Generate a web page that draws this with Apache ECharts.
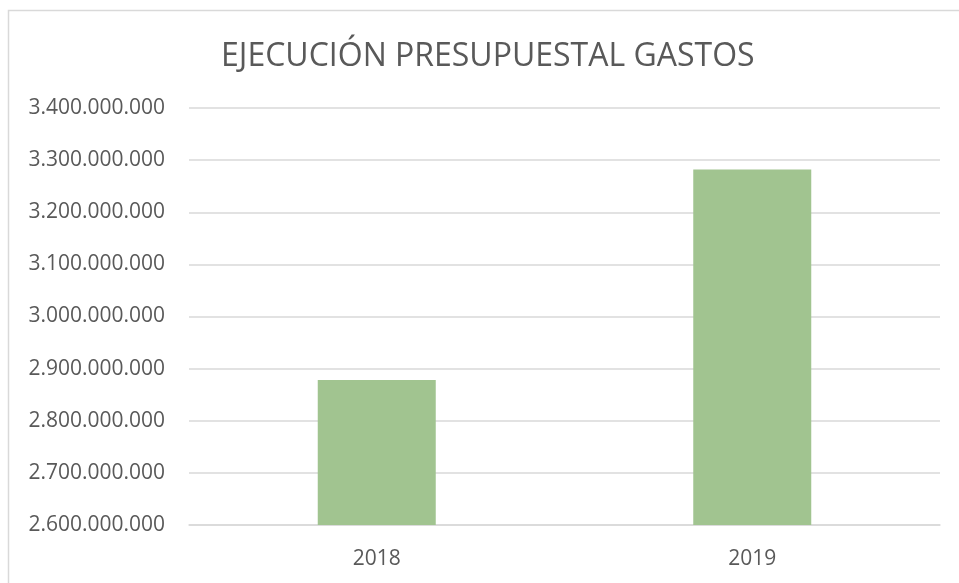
<!DOCTYPE html>
<html>
<head>
<meta charset="utf-8">
<script src="https://cdn.jsdelivr.net/npm/echarts@6/dist/echarts.min.js"></script>
<style>
  html, body { margin:0; padding:0; background:#fff; }
  #chart { width:959px; height:583px; }
</style>
</head>
<body>
<div id="chart"></div>
<script>
var years = ["2018", "2019"];
var gastos = [2878000000, 3282000000];
var yMin = 2600000000;
var yMax = 3400000000;
var yStep = 100000000;

function fmtMiles(v){
  return String(Math.round(v)).replace(/\B(?=(\d{3})+(?!\d))/g, ".");
}

var chart = echarts.init(document.getElementById("chart"));

var option = {
  backgroundColor:"#fff",
  animation:false,
  title:{
    text:"EJECUCIÓN PRESUPUESTAL GASTOS",
    left:221,
    top:41,
    padding:0,
    textStyle:{
      fontFamily:"Open Sans",
      fontWeight:"normal",
      fontSize:32,
      color:"#595959"
    }
  },
  graphic:[
    {
      type:"rect",
      shape:{ x:8.5, y:10.5, width:1000, height:1000 },
      style:{ fill:"none", stroke:"#d9d9d9", lineWidth:1.5 },
      silent:true
    }
  ],
  grid:{
    left:189,
    right:19,
    top:108,
    bottom:58
  },
  xAxis:{
    type:"category",
    data:years,
    axisLine:{ show:true, lineStyle:{ color:"#d9d9d9", width:1.5 } },
    axisTick:{ show:false },
    axisLabel:{
      margin:24,
      fontFamily:"Open Sans",
      fontSize:21,
      color:"#595959"
    }
  },
  yAxis:{
    type:"value",
    min:yMin,
    max:yMax,
    interval:yStep,
    axisLine:{ show:false },
    axisTick:{ show:false },
    splitLine:{ lineStyle:{ color:"#d9d9d9", width:1.5 } },
    axisLabel:{
      margin:24,
      fontFamily:"Open Sans",
      fontSize:21,
      color:"#595959",
      formatter:fmtMiles
    }
  },
  series:[
    {
      type:"bar",
      data:gastos,
      barWidth:118,
      itemStyle:{ color:"#a1c490" }
    }
  ]
};

chart.setOption(option);
</script>
</body>
</html>
